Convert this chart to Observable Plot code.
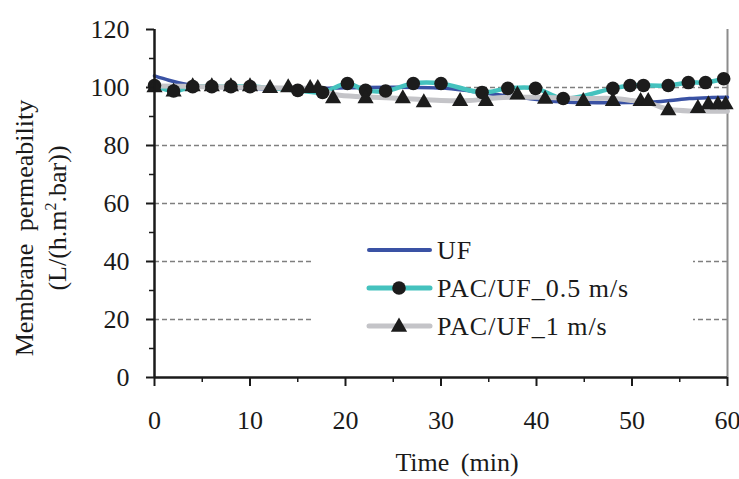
<!DOCTYPE html>
<html><head><meta charset="utf-8">
<script src="https://cdn.jsdelivr.net/npm/d3@7"></script>
<script src="https://cdn.jsdelivr.net/npm/@observablehq/plot@0.6"></script>
<style>
body{margin:0;background:#fff;}
#wrap{position:relative;width:739px;height:479px;}
#legend{position:absolute;left:313px;top:222px;width:380px;height:122px;background:#fff;}
#legend svg{font-family:"Liberation Serif",serif;font-size:26px;fill:#1a1a1a;}
</style></head><body><div id="wrap"></div>
<script>
// UF (line only)
const ufTime = [0,1.5,3,5,8,12,16,20,25,30,33,36,39,42,45,50,52,54,56,58,60];
const ufPerm = [104,102.5,101.3,100.3,99.9,99.6,99.6,99.9,100.1,99.8,98.8,97.5,96.3,95.2,94.8,94.8,94.9,95.5,96.2,96.5,96.6];
// PAC/UF_0.5 m/s (line + circles)
const pac05Time = [0,2,4,6,8,10,15,17.6,20.2,22.1,24.2,27.1,30,34.3,37,39.9,42.8,48,49.8,51.2,53.8,55.9,57.7,59.6];
const pac05Perm = [100.7,98.8,100.3,100.3,100.3,100.3,99.0,98.3,101.4,99.0,98.8,101.4,101.4,98.3,99.7,99.7,96.2,99.7,100.7,100.7,100.7,101.7,101.7,103];
// PAC/UF_1 m/s line
const pac1LineTime = [0,5,10,15,17,19,22,26,30,33,36,40,45,48,50,52,53,54,56,60];
const pac1LinePerm = [100.5,100.3,100,99.7,99.5,97.5,96.8,96.2,95.5,95.5,96.5,96.6,96.2,96.2,95.5,94.5,93.2,92.4,91.9,91.8];
// PAC/UF_1 m/s triangles
const pac1Time = [0,2,4,6,8,10,12.1,14,16.3,17.1,18.7,22.1,26,28.2,32,34.7,38,40.9,44.9,48,50.9,51.7,53.8,56.9,58,59,59.8];
const pac1Perm = [100,98.5,100.3,100.3,100.3,100.3,99.7,100,99.7,99.7,96.2,96.2,96.2,94.8,95.2,95.2,97.5,96,95.2,95.2,95.2,95.2,92,92.8,94.1,94.1,94.1];

const seriesNames = ["UF","PAC/UF_0.5 m/s","PAC/UF_1 m/s"];
const seriesColors = ["#3a52a4","#45c2be","#c4c4c8"];
const xTicks = [0,10,20,30,40,50,60];
const xMinor = [5,15,25,35,45,55];
const yTicks = [0,20,40,60,80,100,120];
const yMinor = [10,30,50,70,90,110];
const gridY = [20,40,60,80,100];

const uf = ufTime.map((t,i)=>({t, v: ufPerm[i]}));
const p05 = pac05Time.map((t,i)=>({t, v: pac05Perm[i]}));
const p1line = pac1LineTime.map((t,i)=>({t, v: pac1LinePerm[i]}));
const p1 = pac1Time.map((t,i)=>({t, v: pac1Perm[i]}));

const markerFill = "#1c1c1c";
const chart = Plot.plot({
  width: 739, height: 479,
  marginLeft: 154, marginRight: 12, marginTop: 29, marginBottom: 102,
  style: {fontFamily: "Liberation Serif, serif", fontSize: "26px", color: "#1a1a1a", background: "#fff"},
  x: {domain: [0,60], label: null},
  y: {domain: [0,120], label: null},
  marks: [
    Plot.ruleY(gridY, {stroke: "#7f7f7f", strokeWidth: 1.6, strokeDasharray: "5,3"}),
    Plot.ruleX([60], {stroke: "#8c8c8c", strokeWidth: 2}),
    Plot.line(uf, {x: "t", y: "v", stroke: seriesColors[0], strokeWidth: 3.5, curve: "catmull-rom"}),
    Plot.line(p05, {x: "t", y: "v", stroke: seriesColors[1], strokeWidth: 4.5, curve: "catmull-rom"}),
    Plot.line(p1line, {x: "t", y: "v", stroke: seriesColors[2], strokeWidth: 5, curve: "catmull-rom"}),
    Plot.dot(p05, {x: "t", y: "v", r: 6.8, fill: markerFill, symbol: "circle"}),
    Plot.dot(p1, {x: "t", y: "v", r: 6, fill: markerFill, symbol: "triangle"}),
    Plot.axisY(yMinor, {tickSize: 5, tickFormat: () => "", stroke: "#1a1a1a", strokeWidth: 1.5, label: null}),
    Plot.axisY(yTicks, {tickSize: 8, tickPadding: 17, stroke: "#1a1a1a", strokeWidth: 2, label: null, fontSize: 26}),
    Plot.axisX(xMinor, {tickSize: 5, tickFormat: () => "", stroke: "#1a1a1a", strokeWidth: 1.5, label: null}),
    Plot.axisX(xTicks, {tickSize: 9, tickPadding: 24, stroke: "#1a1a1a", strokeWidth: 2, label: null, fontSize: 26}),
    Plot.ruleX([0], {stroke: "#1a1a1a", strokeWidth: 2.5}),
    Plot.ruleY([0], {stroke: "#1a1a1a", strokeWidth: 2.5})
  ]
});
document.getElementById("wrap").appendChild(chart);

const svg = d3.select(chart);
svg.append("text").attr("x", 457).attr("y", 471).attr("text-anchor","middle")
  .attr("font-size", 26).attr("fill","#1a1a1a").attr("word-spacing","5px").text("Time (min)");
svg.append("text").attr("transform","translate(33,228) rotate(-90)").attr("text-anchor","middle")
  .attr("font-size", 26).attr("fill","#1a1a1a").attr("word-spacing","6px").text("Membrane permeability");
const l2 = svg.append("text").attr("transform","translate(66,218) rotate(-90)").attr("text-anchor","middle")
  .attr("font-size", 26).attr("fill","#1a1a1a");
l2.append("tspan").text("(L/(h.m");
l2.append("tspan").attr("font-size",16).attr("dy",-10).text("2");
l2.append("tspan").attr("dy",10).text(".bar))");

// legend overlay
const leg = d3.select("#wrap").append("div").attr("id","legend");
const ls = leg.append("svg").attr("width",380).attr("height",122);
const rowY = [28,66,104];
seriesNames.forEach((name,i)=>{
  const g = ls.append("g").attr("transform",`translate(0,${rowY[i]})`);
  g.append("line").attr("x1",56).attr("x2",117).attr("y1",0).attr("y2",0)
    .attr("stroke",seriesColors[i]).attr("stroke-width", i===0?4:5).attr("stroke-linecap","round");
  if (i===1) g.append("circle").attr("cx",86).attr("cy",0).attr("r",6.8).attr("fill",markerFill);
  if (i===2) g.append("path").attr("d", d3.symbol(d3.symbolTriangle, 115)()).attr("transform","translate(86,1)").attr("fill",markerFill);
  g.append("text").attr("x",124).attr("y",9).attr("letter-spacing","1px").text(name);
});
</script></body></html>
